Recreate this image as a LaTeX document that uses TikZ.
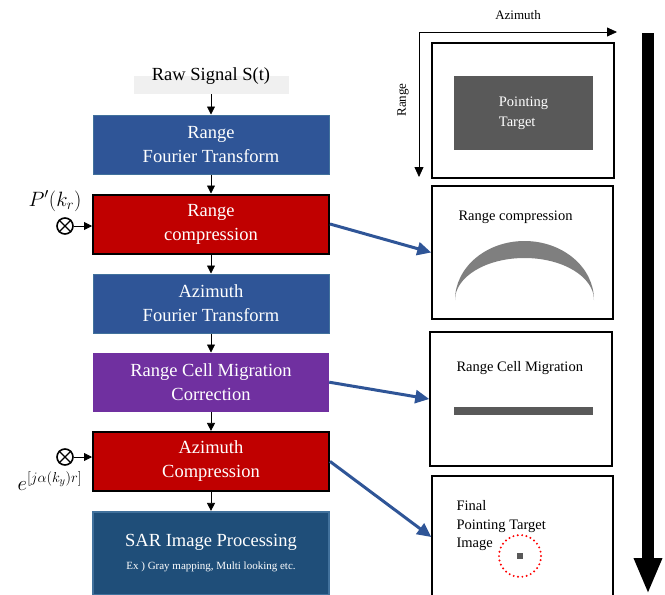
\documentclass[tikz,border=0pt]{standalone}
\usepackage{fontspec}
\setmainfont{Liberation Serif}
\usetikzlibrary{arrows.meta, positioning}
\definecolor{fftblue}{RGB}{47, 85, 151}
\definecolor{edgeblue}{RGB}{65, 113, 156}
\definecolor{compred}{RGB}{192, 0, 0}
\definecolor{rcmcpurple}{RGB}{112, 48, 160}
\definecolor{sarblue}{RGB}{31, 78, 121}
\definecolor{targetgray}{RGB}{89, 89, 89}
\definecolor{archgray}{RGB}{127, 127, 127}

\begin{document}
\begin{tikzpicture}[x=1pt, y=-1pt, node distance=19pt,
    proc/.style={rectangle, minimum width=236pt, minimum height=59pt, text=white, align=center, font=\fontsize{18.5}{24}\selectfont},
    fftbox/.style={proc, fill=fftblue, draw=edgeblue, line width=1pt},
    compbox/.style={proc, fill=compred, draw=black, line width=2pt},
    flow/.style={-{Triangle[length=8pt, width=8pt]}, line width=0.8pt},
    link/.style={-{Triangle[length=14pt, width=13pt]}, line width=3pt, draw=fftblue},
    panel/.style={draw, line width=1.5pt, minimum width=181pt, minimum height=134pt},
    note/.style={anchor=west, align=left, font=\fontsize{14.5}{18.5}\selectfont},
    mixer/.style={circle, draw, line width=1.6pt, minimum size=16pt, inner sep=0pt}]
    \clip (0,0) rectangle (665,595);

    % processing chain
    \node[fill=gray!12, minimum width=155pt, minimum height=18pt, inner sep=0pt] (raw) at (211,85) {};
    \node[font=\fontsize{18.5}{20}\selectfont] (rawtxt) at (211,76) {Raw Signal S(t)};
    \node[fftbox] (rft) at (211,144.5) {Range\\Fourier Transform};
    \node[compbox, below=of rft] (rc) {Range\\compression};
    \node[fftbox, below=of rc] (aft) {Azimuth\\Fourier Transform};
    \node[proc, fill=rcmcpurple, below=of aft] (rcmc) {Range Cell Migration\\Correction};
    \node[compbox, below=of rcmc] (azc) {Azimuth\\Compression};
    \node[proc, fill=sarblue, draw=edgeblue, line width=2pt, minimum height=83pt, below=of azc] (sar)
        {SAR Image Processing\\[-1pt]{\fontsize{11}{13}\selectfont Ex ) Gray mapping, Multi looking etc.}};

    \draw[flow] (raw) -- (rft);
    \draw[flow] (rft) -- (rc);
    \draw[flow] (rc) -- (aft);
    \draw[flow] (aft) -- (rcmc);
    \draw[flow] (rcmc) -- (azc);
    \draw[flow] (azc) -- (sar);

    % reference functions
    \node[mixer] (m1) at (65,226) {};
    \draw[line width=1.2pt] (m1.north west) -- (m1.south east) (m1.north east) -- (m1.south west);
    \node[font=\fontsize{20}{22}\selectfont] (p1) at (55,201) {$P'(k_r)$};
    \draw[flow] (m1) -- (m1 -| rc.west);
    \node[mixer] (m2) at (65,457) {};
    \draw[line width=1.2pt] (m2.north west) -- (m2.south east) (m2.north east) -- (m2.south west);
    \node[font=\fontsize{22}{24}\selectfont] (p2) at (50,481) {$e^{[j\alpha(k_y)r]}$};
    \draw[flow] (m2) -- (m2 -| azc.west);

    % image panels
    \node[font=\fontsize{13}{16}\selectfont] (azlab) at (518,15) {Azimuth};
    \node[font=\fontsize{13}{16}\selectfont, rotate=90] (rglab) at (403,100) {Range};
    \coordinate (axo) at (419,32);
    \coordinate (azend) at (617,32);
    \coordinate (rgend) at (419,177);
    \draw[-{Triangle[length=10pt, width=9pt]}, line width=0.8pt] (axo) -- (azend);
    \draw[-{Triangle[length=10pt, width=9pt]}, line width=0.8pt] (axo) -- (rgend);

    \node[panel, minimum width=182pt, minimum height=135pt] (pan1) at (523,110.5) {};
    \node[fill=targetgray, minimum width=139pt, minimum height=74pt, text=white, align=left,
        font=\fontsize{14.5}{20}\selectfont] (tgt) at (523.5,113) {Pointing\\Target};

    \node[panel, minimum height=133pt] (pan2) at (522.5,252.5) {};
    \node[note] (rctxt) at (455,217) {Range compression};
    \fill[archgray] (455,300) arc[start angle=180, end angle=0, x radius=69.5pt, y radius=59pt]
        arc[start angle=0, end angle=180, x radius=69.5pt, y radius=42pt] -- cycle;

    \node[panel, minimum width=182pt] (pan3) at (521,399) {};
    \node[note] (rcmctxt) at (453,368) {Range Cell Migration};
    \fill[targetgray] (454,407) rectangle (593,415);

    \node[panel, minimum height=122pt] (pan4) at (522.5,537) {};
    \node[note] (fintxt) at (453,526) {Final\\Pointing Target\\Image};
    \draw[red, line width=2.2pt, line cap=round, dash pattern=on 0pt off 4.4pt] (520,556) circle[radius=21pt];
    \fill[targetgray] (517,553) rectangle (523,559);

    \draw[link] (rc.east) -- (pan2.west);
    \draw[link] (rcmc.east) -- (pan3.west);
    \draw[link] (azc.east) -- (pan4.west);

    % processing direction
    \coordinate (dirtop) at (648,33);
    \coordinate (dirend) at (648,594);
    \draw[line width=12pt, -{Triangle[length=36pt, width=26pt]}] (dirtop) -- (dirend);
\end{tikzpicture}
\end{document}
